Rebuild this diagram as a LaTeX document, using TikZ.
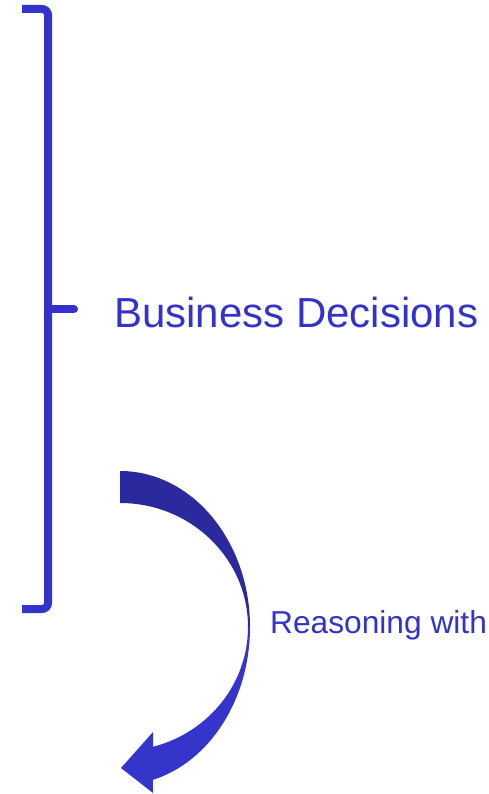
\documentclass[tikz,border=0pt]{standalone}
\usepackage{fontspec}
\setmainfont{Liberation Sans}
\usetikzlibrary{calc}
\definecolor{braceblue}{HTML}{3333CC}
\definecolor{arrowdark}{HTML}{2A2A9E}
\definecolor{arrowlight}{HTML}{3535CC}
\begin{document}
\begin{tikzpicture}[x=1pt,y=1pt,
	every node/.style={anchor=base west,inner sep=0pt}]
	\tikzstyle{bluetext}=[text=braceblue];
	\tikzstyle{bracepen}=[draw=braceblue,line width=8pt];
	\useasboundingbox (0,0) rectangle (488,-794);
	% brace
	\coordinate (btop) at (22,-9);
	\coordinate (bbot) at (22,-609);
	\coordinate (bmid) at (48,-309);
	\coordinate (btip) at (74,-309);
	\draw[bracepen,rounded corners=6pt] (btop) -- (48,-9) -- (48,-609) -- (bbot);
	\draw[bracepen,line cap=round] (bmid) -- (btip);
	% curved arrow
	\coordinate (c) at (120,-627);
	\fill[arrowdark] (120,-471) arc[start angle=90,end angle=0,x radius=130,y radius=156]
		-- (248,-627) arc[start angle=0,end angle=90,x radius=128,y radius=124] -- cycle;
	\fill[arrowlight] (250,-627) arc[start angle=0,end angle=-75.3,x radius=130,y radius=158]
		-- (153,-793) -- (121,-768) -- (153,-732)
		-- ($(c)+(-75:128 and 124)$) arc[start angle=-75,end angle=0,x radius=128,y radius=124] -- cycle;
	% texts
	\node[bluetext,font=\fontsize{42}{50}\selectfont] (decisions) at (114,-327) {Business Decisions};
	\node[bluetext,font=\fontsize{31.7}{38}\selectfont] (reasoning) at (270,-633) {Reasoning with};
\end{tikzpicture}
\end{document}
